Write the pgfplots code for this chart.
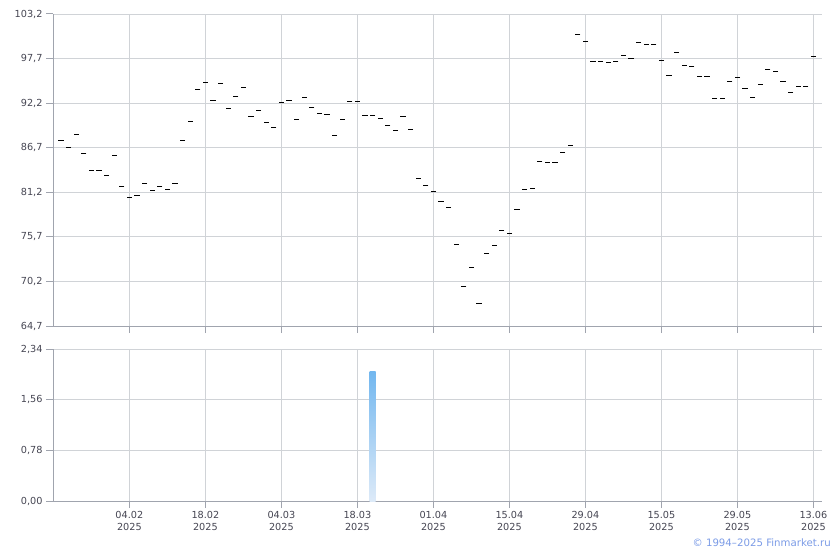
\documentclass[border=0pt]{standalone}
\usepackage{pgfplots}
\pgfplotsset{compat=1.18}
\usepackage{pgfplotstable}
\usepackage{fontspec}
\setmainfont{DejaVu Sans}
\definecolor{gridc}{HTML}{D0D3D7}
\definecolor{axc}{HTML}{A0A4AE}
\definecolor{txtc}{HTML}{454552}
\definecolor{barTop}{HTML}{72B7EF}
\definecolor{barBot}{HTML}{DDEAF8}
\definecolor{copyc}{HTML}{7B9BE6}
\pgfplotstableread{
i v
0 87.55
1 86.68
2 88.29
3 85.94
4 83.85
5 83.85
6 83.23
7 85.74
8 81.88
9 80.52
10 80.77
11 82.29
12 81.38
13 81.88
14 81.51
15 82.29
16 87.55
17 89.89
18 93.87
19 94.70
20 92.52
21 94.57
22 91.53
23 92.97
24 94.08
25 90.50
26 91.24
27 89.77
28 89.17
29 92.23
30 92.48
31 90.14
32 92.85
33 91.61
34 90.87
35 90.75
36 88.16
37 90.14
38 92.35
39 92.35
40 90.63
41 90.63
42 90.26
43 89.40
44 88.78
45 90.50
46 88.90
47 82.95
48 82.00
49 81.26
50 80.03
51 79.29
52 74.73
53 69.55
54 71.89
55 67.46
56 73.62
57 74.61
58 76.50
59 76.08
60 79.04
61 81.51
62 81.63
63 84.96
64 84.83
65 84.83
66 86.07
67 86.93
68 100.65
69 99.75
70 97.28
71 97.28
72 97.20
73 97.28
74 98.02
75 97.65
76 99.63
77 99.38
78 99.38
79 97.41
80 95.56
81 98.39
82 96.79
83 96.67
84 95.43
85 95.43
86 92.72
87 92.72
88 94.82
89 95.31
90 93.96
91 92.85
92 94.45
93 96.30
94 96.05
95 94.82
96 93.46
97 94.20
98 94.20
99 97.90
}\pricetable
\pgfplotsset{
  base/.style={
    scale only axis, width=769pt,
    xmin=-1.05, xmax=100.13,
    axis x line*=bottom, axis y line*=left,
    axis line style={axc, line width=1pt, -},
    grid=major, grid style={gridc, line width=0.9pt},
    tick style={axc, line width=1pt},
    tick align=outside,
    major tick length=7pt,
    xtick={9,19,...,99},
    tick label style={font=\fontsize{9.7}{12}\selectfont, text=txtc},
    /pgf/number format/assume math mode=true,
    /pgf/number format/use comma,
    /pgf/number format/fixed,
    /pgf/number format/fixed zerofill,
  }
}
\begin{document}
\begin{tikzpicture}
\useasboundingbox (0,0) rectangle (840pt,550pt);
\begin{axis}[base, at={(53pt,224pt)}, anchor=south west, height=312pt,
  ymin=64.7, ymax=103.2,
  ytick={64.7,70.2,75.7,81.2,86.7,92.2,97.7,103.2},
  yticklabel style={/pgf/number format/precision=1},
  xticklabels={}]
\addplot[only marks, mark=-, mark size=2.6pt, mark options={line width=1pt, black}] table[x=i, y=v] {\pricetable};
\end{axis}
\begin{axis}[base, at={(53pt,49pt)}, anchor=south west, height=152pt,
  ymin=0, ymax=2.34,
  ytick={0,0.78,1.56,2.34},
  yticklabel style={/pgf/number format/precision=2},
  xticklabels={{04.02\\2025},{18.02\\2025},{04.03\\2025},{18.03\\2025},{01.04\\2025},{15.04\\2025},{29.04\\2025},{15.05\\2025},{29.05\\2025},{13.06\\2025}},
  xticklabel style={align=center}]
\addplot[ybar, bar width=6pt, draw=none, top color=barTop, bottom color=barBot] coordinates {(41,2.0)};
\end{axis}
\node[anchor=base east, text=copyc, font=\fontsize{10.2}{12}\selectfont, inner sep=0pt] at (831pt,4pt) {© 1994–2025 Finmarket.ru};
\end{tikzpicture}
\end{document}
